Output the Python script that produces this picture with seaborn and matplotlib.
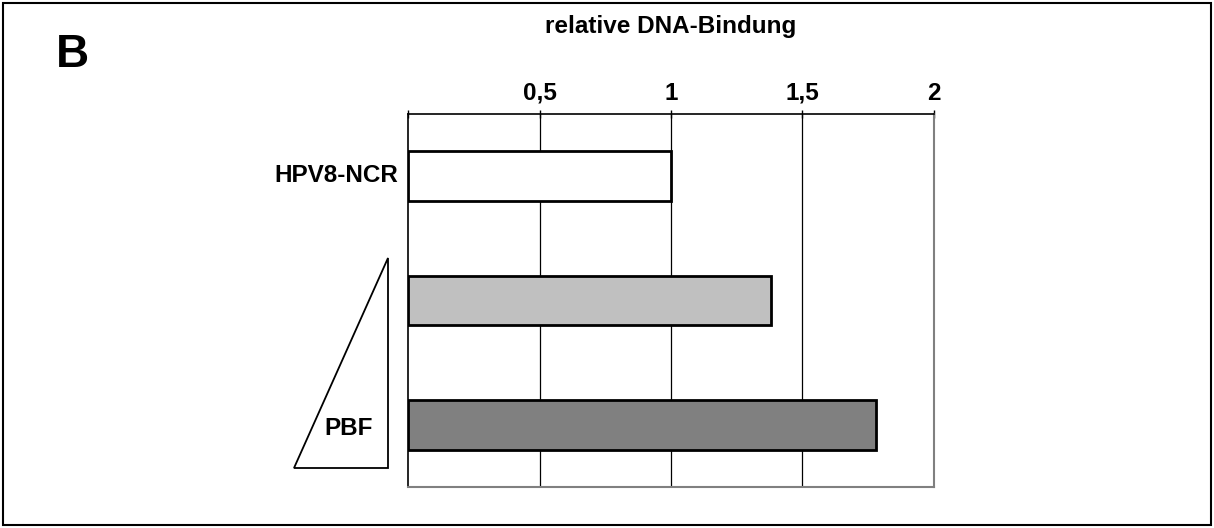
import pandas as pd
import matplotlib.pyplot as plt
import seaborn as sns
from matplotlib.patches import Polygon, Rectangle

categories = ['HPV8-NCR', 'PBF niedrig', 'PBF hoch']
binding = [1.0, 1.38, 1.78]
bar_colors = ['#ffffff', '#c0c0c0', '#808080']
x_ticks = [0.5, 1, 1.5, 2]
x_ticklabels = ['0,5', '1', '1,5', '2']

df = pd.DataFrame({'probe': categories, 'bindung': binding})

sns.set_style('white')
plt.rcParams['font.family'] = ['Liberation Sans', 'DejaVu Sans']
plt.rcParams['font.weight'] = 'bold'
plt.rcParams['text.color'] = 'black'

W, H = 1214, 528
fig = plt.figure(figsize=(W / 100, H / 100), dpi=100)
ax = fig.add_axes([408 / W, 1 - 487 / H, (934 - 408) / W, (487 - 114) / H])

sns.barplot(data=df, x='bindung', y='probe', hue='probe', palette=bar_colors,
            orient='h', width=0.4, edgecolor='black', linewidth=2,
            legend=False, ax=ax, zorder=3)

ax.set_xlim(0, 2)
ax.set_ylim(2.5, -0.5)
ax.xaxis.tick_top()
ax.set_xticks([0] + x_ticks)
ax.set_xticklabels([''] + x_ticklabels, fontsize=17.5, fontweight='bold')
ax.tick_params(axis='x', direction='inout', length=6, width=1, pad=3.5,
               colors='black', labelcolor='black')
ax.set_xlabel('')
ax.set_ylabel('')

# y ticks at category boundaries, label only the first
ax.set_yticks([-0.5, 0.5, 1.5, 2.5])
ax.set_yticklabels([])
ax.tick_params(axis='y', direction='out', length=5, width=1, colors='black')
fig.text(398 / W, 1 - 182 / H, categories[0], ha='right', va='baseline',
         fontsize=17.5, fontweight='bold', color='black')

for x in x_ticks[:-1]:
    ax.axvline(x, color='black', lw=0.9, zorder=1)

for side in ['top', 'left']:
    ax.spines[side].set_color('black')
    ax.spines[side].set_linewidth(1.2)
for side in ['right', 'bottom']:
    ax.spines[side].set_color('#808080')
    ax.spines[side].set_linewidth(1.5)

fig.text(671 / W, 1 - 33 / H, 'relative DNA-Bindung', ha='center', va='baseline',
         fontsize=17.5, fontweight='bold', color='black')
fig.text(56 / W, 1 - 67 / H, 'B', ha='left', va='baseline', fontsize=33,
         fontweight='bold', color='black')

# wedge indicating increasing PBF
tri = Polygon([(294 / W, 1 - 468 / H), (388 / W, 1 - 468 / H), (388 / W, 1 - 258 / H)],
              closed=True, facecolor='white', edgecolor='black', lw=1.3,
              transform=fig.transFigure)
fig.add_artist(tri)
fig.text(349 / W, 1 - 435 / H, 'PBF', ha='center', va='baseline', fontsize=17.5,
         fontweight='bold', color='black')

fig.add_artist(Rectangle((3 / W, 3 / H), 1 - 6 / W, 1 - 6 / H, fill=False,
                         edgecolor='black', lw=1.5, transform=fig.transFigure))

fig.savefig('out.png', dpi=100)
